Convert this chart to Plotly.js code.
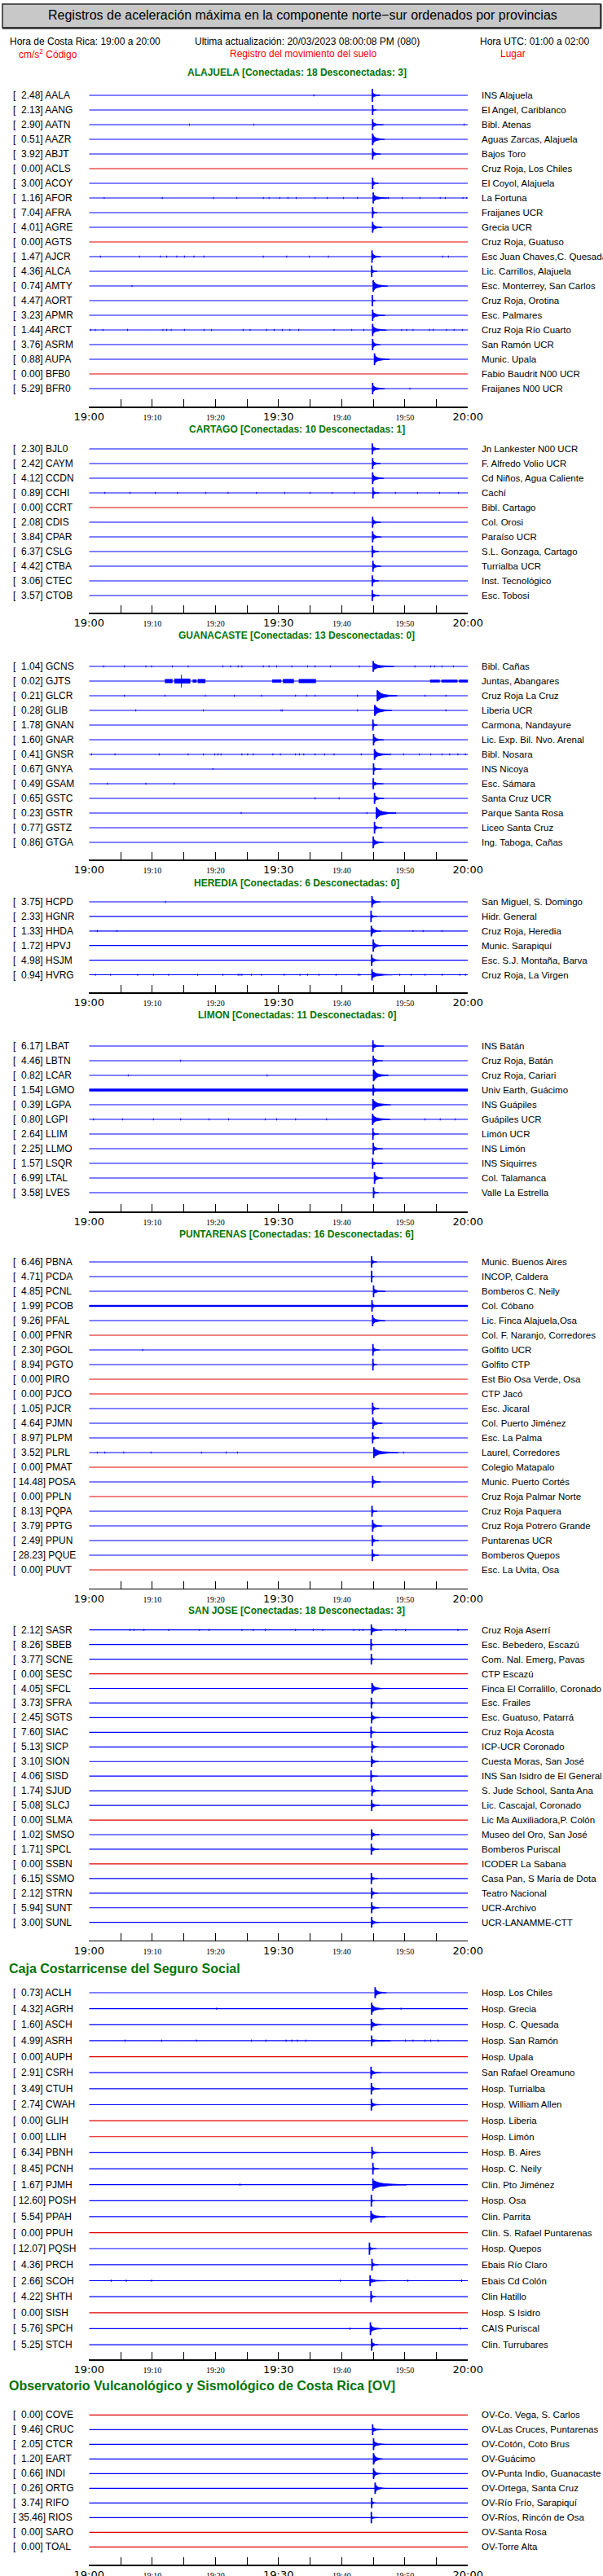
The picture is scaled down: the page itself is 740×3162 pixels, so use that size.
<!DOCTYPE html>
<html><head><meta charset="utf-8">
<script src="https://cdn.plot.ly/plotly-3.0.1.min.js"></script>
<style>html,body{margin:0;padding:0;background:#fff}</style>
</head><body><div id="chart" style="width:740px;height:3162px"></div>
<script>
// ---------------- DATA ----------------
const pageTitle = 'Registros de aceleración máxima en la componente norte\u2212sur ordenados por provincias';
const infoLeft = 'Hora de Costa Rica: 19:00 a 20:00';
const infoMid = 'Ultima actualización: 20/03/2023 08:00:08 PM (080)';
const infoRight = 'Hora UTC: 01:00 a 02:00';
const colHeads = ['cm/s<sup>2</sup> Código', 'Registro del movimiento del suelo', 'Lugar'];

const tickMinutes = [0,5,10,15,20,25,30,35,40,45,50,55,60];
const tickLabels = ['19:00','','19:10','','19:20','','19:30','','19:40','','19:50','','20:00'];
const bigTickLabels = ['19:00','19:30','20:00'];

const sectionTitles = [
  'ALAJUELA [Conectadas: 18 Desconectadas: 3]',
  'CARTAGO [Conectadas: 10 Desconectadas: 1]',
  'GUANACASTE [Conectadas: 13 Desconectadas: 0]',
  'HEREDIA [Conectadas: 6 Desconectadas: 0]',
  'LIMON [Conectadas: 11 Desconectadas: 0]',
  'PUNTARENAS [Conectadas: 16 Desconectadas: 6]',
  'SAN JOSE [Conectadas: 18 Desconectadas: 3]',
  'Caja Costarricense del Seguro Social',
  'Observatorio Vulcanológico y Sismológico de Costa Rica [OV]'
];

// Alajuela
const alaCodes = ['AALA','AANG','AATN','AAZR','ABJT','ACLS','ACOY','AFOR','AFRA','AGRE','AGTS','AJCR','ALCA','AMTY','AORT','APMR','ARCT','ASRM','AUPA','BFB0','BFR0'];
const alaPga = [2.48,2.13,2.90,0.51,3.92,0.00,3.00,1.16,7.04,4.01,0.00,1.47,4.36,0.74,4.47,3.23,1.44,3.76,0.88,0.00,5.29];
const alaPlaces = ['INS Alajuela','El Angel, Cariblanco','Bibl. Atenas','Aguas Zarcas, Alajuela','Bajos Toro','Cruz Roja, Los Chiles','El Coyol, Alajuela','La Fortuna','Fraijanes UCR','Grecia UCR','Cruz Roja, Guatuso','Esc Juan Chaves,C. Quesada','Lic. Carrillos, Alajuela','Esc. Monterrey, San Carlos','Cruz Roja, Orotina','Esc. Palmares','Cruz Roja Río Cuarto','San Ramón UCR','Munic. Upala','Fabio Baudrit N00 UCR','Fraijanes N00 UCR'];
const alaOnset = [44.85,44.9,44.9,44.9,44.9,null,44.9,45.0,44.9,44.9,null,44.8,44.75,45.0,44.85,44.9,44.9,44.9,45.2,null,44.9];
const alaSpike = [0.45,0.33,0.37,0.4,0.37,null,0.39,0.37,0.37,0.37,null,0.42,0.39,0.39,0.39,0.39,0.42,0.39,0.4,null,0.39];
const alaBody  = [0.2,0.15,0.17,0.28,0.2,null,0.2,0.22,0.17,0.22,null,0.22,0.17,0.3,0.14,0.2,0.25,0.25,0.25,null,0.22];
const alaCoda  = [1.2,0.6,1.7,1.9,1.3,null,0.9,2.3,0.7,1.5,null,1.4,0.85,2.3,0.5,2.0,2.2,1.2,2.4,null,1.9];

// Cartago
const carCodes = ['BJL0','CAYM','CCDN','CCHI','CCRT','CDIS','CPAR','CSLG','CTBA','CTEC','CTOB'];
const carPga = [2.30,2.42,4.12,0.89,0.00,2.08,3.84,6.37,4.42,3.06,3.57];
const carPlaces = ['Jn Lankester N00 UCR','F. Alfredo Volio UCR','Cd Niños, Agua Caliente','Cachí','Bibl. Cartago','Col. Orosi','Paraíso UCR','S.L. Gonzaga, Cartago','Turrialba UCR','Inst. Tecnológico','Esc. Tobosi'];
const carOnset = [44.85,44.9,44.9,44.95,null,44.9,44.9,44.85,44.95,44.85,44.85];
const carSpike = [0.38,0.38,0.4,0.37,null,0.38,0.38,0.4,0.38,0.38,0.38];
const carBody  = [0.22,0.2,0.25,0.15,null,0.2,0.22,0.2,0.2,0.2,0.18];
const carCoda  = [1.1,1.2,1.8,1.0,null,1.3,1.4,1.0,1.3,1.0,1.1];

// Guanacaste
const guaCodes = ['GCNS','GJTS','GLCR','GLIB','GNAN','GNAR','GNSR','GNYA','GSAM','GSTC','GSTR','GSTZ','GTGA'];
const guaPga = [1.04,0.02,0.21,0.28,1.78,1.60,0.41,0.67,0.49,0.65,0.23,0.77,0.86];
const guaPlaces = ['Bibl. Cañas','Juntas, Abangares','Cruz Roja La Cruz','Liberia UCR','Carmona, Nandayure','Lic. Exp. Bil. Nvo. Arenal','Bibl. Nosara','INS Nicoya','Esc. Sámara','Santa Cruz UCR','Parque Santa Rosa','Liceo Santa Cruz','Ing. Taboga, Cañas'];
const guaOnset = [45.0,null,45.65,45.25,44.95,45.05,45.2,45.05,45.0,45.2,45.5,45.2,45.0];
const guaSpike = [0.37,null,0.37,0.37,0.37,0.39,0.37,0.39,0.37,0.37,0.4,0.4,0.4];
const guaBody  = [0.22,null,0.33,0.3,0.17,0.22,0.25,0.12,0.15,0.2,0.33,0.18,0.25];
const guaCoda  = [3.3,null,3.1,2.7,0.7,1.6,2.4,1.3,1.6,1.5,3.1,1.2,1.6];

// Heredia
const herCodes = ['HCPD','HGNR','HHDA','HPVJ','HSJM','HVRG'];
const herPga = [3.75,2.33,1.33,1.72,4.98,0.94];
const herPlaces = ['San Miguel, S. Domingo','Hidr. General','Cruz Roja, Heredia','Munic. Sarapiquí','Esc. S.J. Montaña, Barva','Cruz Roja, La Virgen'];
const herOnset = [44.8,44.65,44.7,45.0,44.75,44.8];
const herSpike = [0.39,0.4,0.37,0.42,0.4,0.39];
const herBody  = [0.25,0.15,0.25,0.28,0.22,0.2];
const herCoda  = [1.3,0.9,1.5,1.3,1.2,3.2];

// Limon
const limCodes = ['LBAT','LBTN','LCAR','LGMO','LGPA','LGPI','LLIM','LLMO','LSQR','LTAL','LVES'];
const limPga = [6.17,4.46,0.82,1.54,0.39,0.80,2.64,2.25,1.57,6.99,3.58];
const limPlaces = ['INS Batán','Cruz Roja, Batán','Cruz Roja, Cariari','Univ Earth, Guácimo','INS Guápiles','Guápiles UCR','Limón UCR','INS Limón','INS Siquirres','Col. Talamanca','Valle La Estrella'];
const limOnset = [44.95,45.0,45.05,45.0,44.95,44.9,44.95,45.0,44.9,45.2,45.05];
const limSpike = [0.39,0.35,0.4,0.37,0.39,0.39,0.4,0.4,0.37,0.4,0.37];
const limBody  = [0.15,0.2,0.35,0.25,0.3,0.25,0.15,0.18,0.12,0.25,0.15];
const limCoda  = [1.7,1.5,2.3,0.8,2.8,2.8,0.9,1.5,1.6,1.3,0.8];

// Puntarenas
const punCodes = ['PBNA','PCDA','PCNL','PCOB','PFAL','PFNR','PGOL','PGTO','PIRO','PJCO','PJCR','PJMN','PLPM','PLRL','PMAT','POSA','PPLN','PQPA','PPTG','PPUN','PQUE','PUVT'];
const punPga = [6.46,4.71,4.85,1.99,9.26,0.00,2.30,8.94,0.00,0.00,1.05,4.64,8.97,3.52,0.00,14.48,0.00,8.13,3.79,2.49,28.23,0.00];
const punPlaces = ['Munic. Buenos Aires','INCOP, Caldera','Bomberos C. Neily','Col. Cóbano','Lic. Finca Alajuela,Osa','Col. F. Naranjo, Corredores','Golfito UCR','Golfito CTP','Est Bio Osa Verde, Osa','CTP Jacó','Esc. Jicaral','Col. Puerto Jiménez','Esc. La Palma','Laurel, Corredores','Colegio Matapalo','Munic. Puerto Cortés','Cruz Roja Palmar Norte','Cruz Roja Paquera','Cruz Roja Potrero Grande','Puntarenas UCR','Bomberos Quepos','Esc. La Uvita, Osa'];
const punOnset = [44.75,44.75,45.05,44.8,44.9,null,44.95,44.95,null,null,44.9,44.95,44.9,45.1,null,44.9,null,44.8,44.9,44.85,44.85,null];
const punSpike = [0.39,0.4,0.4,0.39,0.39,null,0.4,0.4,null,null,0.4,0.4,0.37,0.37,null,0.4,null,0.38,0.4,0.38,0.4,null];
const punBody  = [0.2,0.12,0.15,0.2,0.22,null,0.2,0.15,null,null,0.2,0.25,0.2,0.25,null,0.2,null,0.15,0.22,0.2,0.18,null];
const punCoda  = [0.8,0.4,1.9,0.8,2.0,null,1.0,0.6,null,null,1.0,1.5,1.0,3.9,null,1.2,null,0.8,1.5,1.0,1.0,null];

// San Jose
const sjoCodes = ['SASR','SBEB','SCNE','SESC','SFCL','SFRA','SGTS','SIAC','SICP','SION','SISD','SJUD','SLCJ','SLMA','SMSO','SPCL','SSBN','SSMO','STRN','SUNT','SUNL'];
const sjoPga = [2.12,8.26,3.77,0.00,4.05,3.73,2.45,7.60,5.13,3.10,4.06,1.74,5.08,0.00,1.02,1.71,0.00,6.15,2.12,5.94,3.00];
const sjoPlaces = ['Cruz Roja Aserrí','Esc. Bebedero, Escazú','Com. Nal. Emerg, Pavas','CTP Escazú','Finca El Corralillo, Coronado','Esc. Frailes','Esc. Guatuso, Patarrá','Cruz Roja Acosta','ICP-UCR Coronado','Cuesta Moras, San José','INS San Isidro de El General','S. Jude School, Santa Ana','Lic. Cascajal, Coronado','Lic Ma Auxiliadora,P. Colón','Museo del Oro, San José','Bomberos Puriscal','ICODER La Sabana','Casa Pan, S María de Dota','Teatro Nacional','UCR-Archivo','UCR-LANAMME-CTT'];
const sjoOnset = [44.7,44.65,44.7,null,44.8,44.7,44.75,44.65,44.8,44.75,44.65,44.8,44.75,null,44.75,44.7,null,44.7,44.75,44.75,44.75];
const sjoSpike = [0.37,0.39,0.37,null,0.37,0.37,0.39,0.39,0.4,0.37,0.39,0.37,0.38,null,0.37,0.38,null,0.38,0.37,0.38,0.37];
const sjoBody  = [0.2,0.12,0.15,null,0.3,0.15,0.22,0.15,0.2,0.22,0.12,0.2,0.2,null,0.2,0.2,null,0.18,0.2,0.2,0.2];
const sjoCoda  = [1.7,0.6,0.6,null,1.6,0.6,1.2,0.8,1.1,1.1,1.0,1.2,1.2,null,1.2,1.2,null,1.0,1.0,1.2,1.2];

// Caja Costarricense del Seguro Social
const ccsCodes = ['ACLH','AGRH','ASCH','ASRH','AUPH','CSRH','CTUH','CWAH','GLIH','LLIH','PBNH','PCNH','PJMH','POSH','PPAH','PPUH','PQSH','PRCH','SCOH','SHTH','SISH','SPCH','STCH'];
const ccsPga = [0.73,4.32,1.60,4.99,0.00,2.91,3.49,2.74,0.00,0.00,6.34,8.45,1.67,12.60,5.54,0.00,12.07,4.36,2.66,4.22,0.00,5.76,5.25];
const ccsPlaces = ['Hosp. Los Chiles','Hosp. Grecia','Hosp. C. Quesada','Hosp. San Ramón','Hosp. Upala','San Rafael Oreamuno','Hosp. Turrialba','Hosp. William Allen','Hosp. Liberia','Hosp. Limón','Hosp. B. Aires','Hosp. C. Neily','Clin. Pto Jiménez','Hosp. Osa','Clin. Parrita','Clin. S. Rafael Puntarenas','Hosp. Quepos','Ebais Río Claro','Ebais Cd Colón','Clin Hatillo','Hosp. S Isidro','CAIS Puriscal','Clin. Turrubares'];
const ccsOnset = [45.3,44.75,44.7,44.75,null,44.65,44.7,44.7,null,null,44.8,44.95,44.95,44.7,44.65,null,44.4,44.8,44.5,44.65,null,44.55,44.75];
const ccsSpike = [0.34,0.37,0.37,0.33,null,0.38,0.36,0.37,null,null,0.37,0.37,0.38,0.37,0.37,null,0.38,0.37,0.34,0.36,null,0.4,0.38];
const ccsBody  = [0.22,0.25,0.2,0.08,null,0.18,0.18,0.15,null,null,0.15,0.12,0.25,0.1,0.22,null,0.12,0.15,0.12,0.18,null,0.22,0.2];
const ccsCoda  = [1.8,2.0,1.8,3.0,null,1.5,1.3,1.5,null,null,1.3,0.9,5.3,0.6,2.3,null,1.1,1.0,2.6,0.7,null,1.8,1.0];

// OVSICORI
const ovsCodes = ['COVE','CRUC','CTCR','EART','INDI','ORTG','RIFO','RIOS','SARO','TOAL'];
const ovsPga = [0.00,9.46,2.05,1.20,0.66,0.26,3.74,35.46,0.00,0.00];
const ovsPlaces = ['OV-Co. Vega, S. Carlos','OV-Las Cruces, Puntarenas','OV-Cotón, Coto Brus','OV-Guácimo','OV-Punta Indio, Guanacaste','OV-Ortega, Santa Cruz','OV-Río Frío, Sarapiquí','OV-Ríos, Rincón de Osa','OV-Santa Rosa','OV-Torre Alta'];
const ovsOnset = [null,44.9,45.05,45.05,45.05,45.3,44.75,44.7,null,null];
const ovsSpike = [null,0.37,0.4,0.39,0.37,0.39,0.36,0.39,null,null];
const ovsBody  = [null,0.15,0.2,0.3,0.25,0.25,0.15,0.08,null,null];
const ovsCoda  = [null,1.7,1.9,1.6,1.3,1.6,0.7,1.0,null,null];

// small isolated noise blips (minutes after 19:00)
const blipTimes = {
  AALA:[35.6], AATN:[15.9,26.1,59.4], AMTY:[6.8], BFR0:[50.8],
  AFOR:[2.4,11.6,19.7,23.4,27.6,28.5,30.2,31.5,32.8,35.8,37.7,40.3,42.5,47.4,49.6,52.4,55.6,56.4,59.2,59.8],
  AJCR:[1.8,8.0,11.3,12.3,13.9,15.1,16.6,18.2,27.6,31.3,34.9,37.9,56.0,56.9],
  ARCT:[0.3,1.0,2.2,6.1,11.7,12.3,13.0,15.1,18.2,19.4,24.4,25.5,28.1,29.3,30.6,31.8,33.2,38.8,41.6,43.5,49.5,50.3,51.3,53.9,54.5,56.6,57.8,59.1],
  CCHI:[2.5,6.5,10.5,14.0,18.5,22.0,26.5,31.0,35.0,38.5,42.0,48.5,52.0,55.5,58.5],
  GCNS:[2.3,5.6,9.0,9.9,13.2,15.7,21.2,22.4,23.6,24.2,27.6,28.5,29.7,32.1,34.6,35.8,38.2,42.8,51.6,54.1,54.7,55.9,57.7],
  GLCR:[5.6,12.0,18.4,23.0,27.3,32.7,34.5,35.8,42.5,53.2,56.5],
  GLIB:[7.4,18.1,30.4,30.6,42.5,56.5],
  GNSR:[0.4,4.1,11.1,15.7,18.1,19.9,20.4,20.9,24.2,25.1,26.0,29.1,30.3,32.7,33.3,34.0,35.8,37.3,38.8,43.1,47.7,49.8,52.3,54.1,55.9,57.1,58.4,59.6],
  GNYA:[19.6], GSAM:[2.9,9.0,13.5], GSTC:[35.8,39.6], GSTR:[24.1,44.0],
  HCPD:[12.1], HHDA:[1.3,4.4,51.3,52.9,55.9],
  HVRG:[1.0,3.4,7.7,10.2,12.6,17.2,21.2,23.6,23.9,24.2,25.7,27.3,30.9,33.4,34.6,36.4,39.1,42.6,42.9,49.2,51.0,53.2,55.9,58.7,59.6],
  LBTN:[14.5], LCAR:[6.2,28.2],
  LGPI:[0.7,5.3,10.2,14.5,19.0,22.1,27.9,29.7,32.7,37.6,53.2,55.6,58.0],
  PGOL:[8.5], PLRL:[1.3,2.5,5.5,9.8,17.8,21.7,23.5,49.8],
  SASR:[6.5,7.1,8.7,12.6,17.5,19.0,24.2,26.0,27.9,32.7,35.5,37.0,41.9,42.8,43.4,48.6,50.1,58.4],
  AGRH:[20.2,49.4], ASRH:[5.7,11.5,17.0,25.7,28.0,31.2,32.1,33.0,34.3,50.1,51.3,53.2,54.1,55.3],
  PJMH:[23.9], SCOH:[3.5,5.9,9.9,39.8,50.5,59.0], SPCH:[41.3,58.8]
};
const blipHalf = 0.07;

// sustained noise bands: [start, end, half-height]
const noiseBands = {
  GJTS:[[12.0,13.2,0.12],[13.5,16.0,0.15],[14.55,14.65,0.42],[16.4,17.0,0.1],[17.2,18.4,0.12],[29.0,30.4,0.1],[30.7,32.4,0.13],[33.2,35.9,0.12],[54.0,55.5,0.08],[55.8,58.3,0.08],[58.6,60.0,0.08]],
  LGMO:[[0,60,0.085]],
  PCOB:[[0,60,0.05]]
};

// ---------------- LAYOUT ----------------
const W = 740, H = 3162;
const X0 = 109.3, X1 = 574.3;
const fx = p => p / W, fy = p => 1 - p / H;
const BLUE = '#0000ff', RED = '#e00000', GREEN = '#087508';

const sections = [
  {codes:alaCodes,pga:alaPga,places:alaPlaces,onset:alaOnset,spike:alaSpike,body:alaBody,coda:alaCoda,head:89,first:117,step:18.0,axis:499,big:false},
  {codes:carCodes,pga:carPga,places:carPlaces,onset:carOnset,spike:carSpike,body:carBody,coda:carCoda,head:527,first:551,step:18.0,axis:752,big:false},
  {codes:guaCodes,pga:guaPga,places:guaPlaces,onset:guaOnset,spike:guaSpike,body:guaBody,coda:guaCoda,head:780,first:818,step:18.0,axis:1055,big:false},
  {codes:herCodes,pga:herPga,places:herPlaces,onset:herOnset,spike:herSpike,body:herBody,coda:herCoda,head:1084,first:1107,step:17.9,axis:1218,big:false},
  {codes:limCodes,pga:limPga,places:limPlaces,onset:limOnset,spike:limSpike,body:limBody,coda:limCoda,head:1246,first:1284,step:18.0,axis:1487,big:false},
  {codes:punCodes,pga:punPga,places:punPlaces,onset:punOnset,spike:punSpike,body:punBody,coda:punCoda,head:1514.5,first:1549,step:18.0,axis:1949.5,big:false},
  {codes:sjoCodes,pga:sjoPga,places:sjoPlaces,onset:sjoOnset,spike:sjoSpike,body:sjoBody,coda:sjoCoda,head:1977.3,first:2000.7,step:17.95,axis:2381.5,big:false},
  {codes:ccsCodes,pga:ccsPga,places:ccsPlaces,onset:ccsOnset,spike:ccsSpike,body:ccsBody,coda:ccsCoda,head:2416,first:2446,step:19.64,axis:2896,big:true},
  {codes:ovsCodes,pga:ovsPga,places:ovsPlaces,onset:ovsOnset,spike:ovsSpike,body:ovsBody,coda:ovsCoda,head:2928.3,first:2964.3,step:18.0,axis:3148,big:true}
];

const tickText = tickLabels.map(t => {
  if (t === '') return '';
  if (bigTickLabels.includes(t)) return t;
  return '<span style="font-family:Liberation Serif;font-size:10px">' + t + '</span>';
});

const layout = {
  width: W, height: H, margin: {l:0, r:0, t:0, b:0, pad:0},
  paper_bgcolor: '#fff', plot_bgcolor: 'rgba(0,0,0,0)', showlegend: false,
  annotations: [], shapes: []
};
const traces = [];
const labFont = {family:'Liberation Sans', size:12, color:'#000'};
const rightFont = {family:'Liberation Sans', size:11.5, color:'#000'};

// title box
layout.shapes.push({type:'rect', xref:'paper', yref:'paper', x0:fx(3), x1:fx(737), y0:fy(34), y1:fy(5), fillcolor:'#c8c8c8', line:{color:'#2a2a2a', width:1.5}, layer:'below'});
layout.shapes.push({type:'line', xref:'paper', yref:'paper', x0:fx(3), x1:fx(738), y0:fy(34.5), y1:fy(34.5), line:{color:'#333', width:2.5}});
layout.shapes.push({type:'line', xref:'paper', yref:'paper', x0:fx(737.5), x1:fx(737.5), y0:fy(34.5), y1:fy(5), line:{color:'#333', width:2}});
const ann = (text, x, y, xanchor, font, extra) => Object.assign({text, x, y, xref:'paper', yref:'paper', xanchor, yanchor:'middle', showarrow:false, font, borderpad:0}, extra || {});
layout.annotations.push(ann(pageTitle, fx(371), fy(19), 'center', {family:'Liberation Sans', size:16, color:'#000'}));
layout.annotations.push(ann(infoLeft, fx(11), fy(51), 'left', labFont));
layout.annotations.push(ann(infoMid, fx(377), fy(51), 'center', labFont));
layout.annotations.push(ann(infoRight, fx(724), fy(51), 'right', labFont));
const redFont = {family:'Liberation Sans', size:12, color:'#ff0000'};
layout.annotations.push(ann(colHeads[0], fx(22), fy(66), 'left', redFont));
layout.annotations.push(ann(colHeads[1], fx(372), fy(66), 'center', redFont));
layout.annotations.push(ann(colHeads[2], fx(629), fy(66), 'center', redFont));

// burst glyph template (fractions of coda length, fractions of body half-height)
const envFrac = [0, 0.03, 0.1, 0.2, 0.35, 0.6, 1];
const envMul  = [0.3, 1, 0.75, 0.45, 0.25, 0.12, 0.05];

sections.forEach((s, i) => {
  const n = i === 0 ? '' : String(i + 1);
  const xr = 'x' + n, yr = 'y' + n;
  const bottomVal = (s.axis - s.first) / s.step;
  layout['xaxis' + n] = {
    domain:[fx(X0), fx(X1)], anchor:yr, range:[0,60], fixedrange:true,
    showgrid:false, zeroline:false, showline:true, linecolor:'#000', linewidth:1.5,
    ticks:'inside', ticklen:9, tickwidth:1, tickcolor:'#000',
    tickmode:'array', tickvals:tickMinutes, ticktext:tickText,
    tickfont:{family:'DejaVu Sans', size:13, color:'#000'}
  };
  layout['yaxis' + n] = {domain:[fy(s.axis), fy(s.first - s.step)], anchor:xr, range:[bottomVal, -1], visible:false, fixedrange:true};

  // header
  if (s.big) {
    layout.annotations.push(ann(sectionTitles[i], fx(10), fy(s.head), 'left', {family:'Liberation Sans', size:16, color:GREEN, weight:'bold'}));
  } else {
    layout.annotations.push(ann(sectionTitles[i], fx(364), fy(s.head), 'center', {family:'Liberation Sans', size:12, color:GREEN, weight:'bold'}));
  }

  const bx=[], by=[], rx=[], ry=[], px=[], py=[], sx=[], sy=[], kx=[], ky=[], nx=[], ny=[];
  s.codes.forEach((code, r) => {
    const v = s.pga[r];
    const down = v === 0;
    if (down) { rx.push(0, 60, null); ry.push(r, r, null); }
    else { bx.push(0, 60, null); by.push(r, r, null); }
    // labels
    const pad = v >= 10 ? '\u00a0' : '\u00a0\u00a0';
    layout.annotations.push({text:'[' + pad + v.toFixed(2) + '] ' + code, x:fx(15), y:r, xref:'paper', yref:yr, xanchor:'left', yanchor:'middle', showarrow:false, font:labFont, borderpad:0});
    layout.annotations.push({text:s.places[r], x:fx(590), y:r, xref:'paper', yref:yr, xanchor:'left', yanchor:'middle', showarrow:false, font:rightFont, borderpad:0});
    // event burst
    const t = s.onset[r];
    if (t !== null && !down) {
      const b = s.body[r], c = s.coda[r], a = s.spike[r];
      const ux = envFrac.map(f => t + f * c), uy = envMul.map(m => r - b * m);
      const lx = ux.slice().reverse(), ly = envMul.slice().reverse().map(m => r + b * m);
      px.push(...ux, ...lx, null); py.push(...uy, ...ly, null);
      sx.push(t, t, null); sy.push(r - a, r + a, null);
    }
    // noise blips
    (blipTimes[code] || []).forEach(bt => { kx.push(bt, bt, null); ky.push(r - blipHalf, r + blipHalf, null); });
    (noiseBands[code] || []).forEach(([t0, t1, h]) => { nx.push(t0, t1, t1, t0, null); ny.push(r - h, r - h, r + h, r + h, null); });
  });
  const common = {xaxis:xr, yaxis:yr, hoverinfo:'skip', showlegend:false, type:'scatter'};
  traces.push(Object.assign({x:rx, y:ry, mode:'lines', line:{color:RED, width:1.2}}, common));
  traces.push(Object.assign({x:bx, y:by, mode:'lines', line:{color:BLUE, width:1.2}}, common));
  if (nx.length) traces.push(Object.assign({x:nx, y:ny, mode:'lines', fill:'toself', fillcolor:BLUE, line:{color:BLUE, width:0.5}}, common));
  if (kx.length) traces.push(Object.assign({x:kx, y:ky, mode:'lines', line:{color:BLUE, width:1}}, common));
  traces.push(Object.assign({x:px, y:py, mode:'lines', fill:'toself', fillcolor:BLUE, line:{color:BLUE, width:0.8}}, common));
  traces.push(Object.assign({x:sx, y:sy, mode:'lines', line:{color:BLUE, width:1.8}}, common));
});

Plotly.newPlot('chart', traces, layout, {displayModeBar:false, staticPlot:true, responsive:false});
</script></body></html>
